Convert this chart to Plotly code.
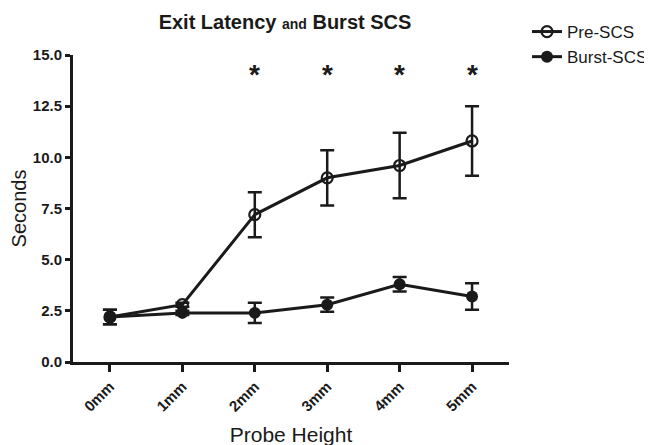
import plotly.graph_objects as go

categories = ["0mm", "1mm", "2mm", "3mm", "4mm", "5mm"]
pre_scs = [2.2, 2.8, 7.2, 9.0, 9.6, 10.8]
pre_err = [0.35, 0.1, 1.1, 1.35, 1.6, 1.7]
burst_scs = [2.2, 2.4, 2.4, 2.8, 3.8, 3.2]
burst_err = [0.35, 0.1, 0.5, 0.35, 0.35, 0.65]
sig_categories = ["2mm", "3mm", "4mm", "5mm"]
sig_level = 14.05
y_ticks = [0, 2.5, 5, 7.5, 10, 12.5, 15]
y_ticklabels = ["0.0", "2.5", "5.0", "7.5", "10.0", "12.5", "15.0"]

FONT = "Liberation Sans, Arial, sans-serif"
INK = "#1a1a1a"

fig = go.Figure()
fig.add_trace(go.Scatter(
    x=categories, y=pre_scs, name="Pre-SCS", mode="lines+markers",
    line=dict(color=INK, width=3),
    marker=dict(symbol="circle-open", size=11, color=INK, line=dict(width=2.2)),
    error_y=dict(type="data", array=pre_err, visible=True, color=INK, thickness=2.5, width=7),
))
fig.add_trace(go.Scatter(
    x=categories, y=burst_scs, name="Burst-SCS", mode="lines+markers",
    line=dict(color=INK, width=3),
    marker=dict(symbol="circle", size=12, color=INK),
    error_y=dict(type="data", array=burst_err, visible=True, color=INK, thickness=2.5, width=7),
))

for c in sig_categories:
    fig.add_annotation(x=c, y=sig_level, text="<b>*</b>", showarrow=False,
                       font=dict(family=FONT, size=28, color=INK),
                       xref="x", yref="y", yanchor="middle")

fig.update_layout(
    width=652, height=445,
    margin=dict(l=65, r=151, t=47, b=91),
    paper_bgcolor="white", plot_bgcolor="white",
    font=dict(family=FONT, color=INK),
    title=dict(
        text="<b>Exit Latency <span style='font-size:14px'>and</span> Burst SCS</b>",
        x=277 / 652, xanchor="center", y=1 - 14 / 445, yanchor="middle",
        font=dict(family=FONT, size=20, color=INK),
    ),
    legend=dict(
        xref="container", yref="container",
        x=519 / 652, y=1 - 6 / 445, xanchor="left", yanchor="top",
        font=dict(family=FONT, size=17, color=INK),
        bgcolor="rgba(0,0,0,0)", tracegroupgap=0, itemwidth=30,
    ),
    showlegend=True,
)
fig.update_xaxes(
    type="category", range=[-0.51, 5.51], automargin=False,
    showline=True, linecolor=INK, linewidth=3,
    ticks="outside", ticklen=7, tickwidth=2.5, tickcolor=INK,
    tickangle=-45, tickfont=dict(family=FONT, size=15, color=INK),
    tickprefix="<b>", ticksuffix="</b>",
    showgrid=False, zeroline=False,
    title=dict(text="Probe Height", font=dict(family=FONT, size=21, color=INK), standoff=14),
)
fig.update_yaxes(
    range=[0, 15], tickvals=y_ticks, ticktext=["<b>%s</b>" % t for t in y_ticklabels],
    automargin=False,
    showline=True, linecolor=INK, linewidth=3,
    ticks="outside", ticklen=5, tickwidth=2.5, tickcolor=INK,
    tickfont=dict(family=FONT, size=15, color=INK),
    showgrid=False, zeroline=False,
    title=dict(text="Seconds", font=dict(family=FONT, size=20, color=INK), standoff=6),
)

fig.write_html("out.html")
